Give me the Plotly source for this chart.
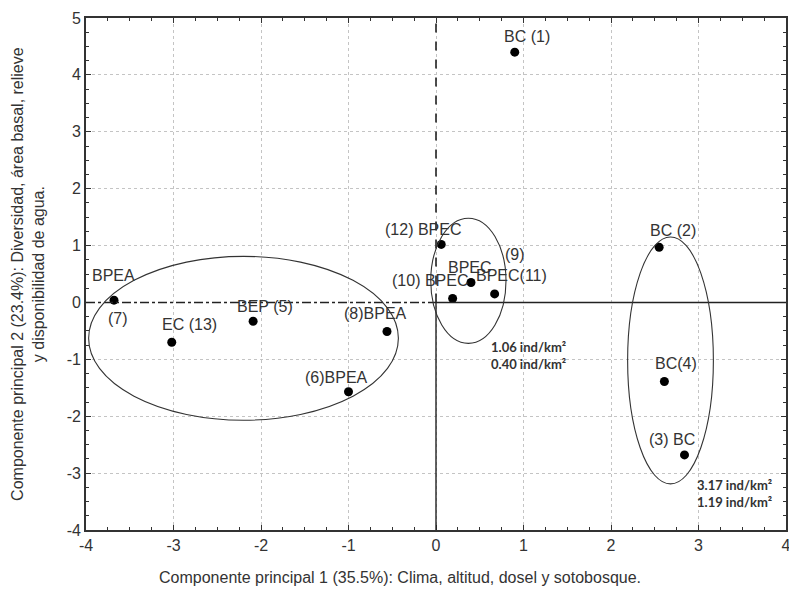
import plotly.graph_objects as go

# ---- data ----
pc1 = [0.90, 2.55, 2.84, 2.61, -2.09, -1.00, -3.68, -0.56, 0.40, 0.19, 0.67, 0.06, -3.02]
pc2 = [4.40, 0.97, -2.68, -1.39, -0.33, -1.57, 0.04, -0.51, 0.35, 0.07, 0.15, 1.02, -0.70]
labels = ["BC (1)", "BC (2)", "(3) BC", "BC(4)", "BEP (5)", "(6)BPEA", "BPEA",
          "(8)BPEA", "BPEC", "(10) BPEC", "BPEC(11)", "(12) BPEC", "EC (13)"]
# label offsets in pixels (styling)
lab_dx = [12, 14, -13, 12, 12, -12, -1, -12, -1, -23, 17, -18, 18]
lab_dy = [16, 17, 15, 18, 15, 14, 25, 18, 15, 18, 18, 15, 18]
# extra labels (point index, text, dx, dy)
extra_labels = [(8, "(9)", 44, 28), (6, "(7)", 4, -18)]

ellipse_cx = [-2.20, 0.37, 2.68]
ellipse_cy = [-0.63, 0.38, -1.02]
ellipse_rx = [1.77, 0.43, 0.49]
ellipse_ry = [1.44, 1.10, 2.17]

density_notes = [("1.06 ind/km²<br>0.40 ind/km²", 0.60, -0.94),
                 ("3.17 ind/km²<br>1.19 ind/km²", 2.96, -3.36)]

x_range = [-4, 4]
y_range = [-4, 5]
x_ticks = [-4, -3, -2, -1, 0, 1, 2, 3, 4]
x_ticktext = ["-4", "-3", "-2", "-1", "0", "1", "2", "3", "4"]
y_ticks = [-4, -3, -2, -1, 0, 1, 2, 3, 4, 5]
y_ticktext = ["-4", "-3", "-2", "-1", "0", "1", "2", "3", "4", "5"]
x_title = "Componente principal 1 (35.5%): Clima, altitud, dosel y sotobosque."
y_title = "Componente principal 2 (23.4%): Diversidad, área basal, relieve<br>y disponibilidad de agua."

FONT = "Liberation Sans, Arial, sans-serif"
TXT = "#333333"
FS = 16

fig = go.Figure()

shapes = []
# reference lines through origin
shapes.append(dict(type="line", xref="x", yref="y", x0=0, x1=0, y0=0, y1=y_range[1],
                   line=dict(color="#222", width=1.6, dash="dash")))
shapes.append(dict(type="line", xref="x", yref="y", x0=0, x1=0, y0=y_range[0], y1=0,
                   line=dict(color="#222", width=1.4)))
shapes.append(dict(type="line", xref="x", yref="y", x0=x_range[0], x1=0, y0=0, y1=0,
                   line=dict(color="#222", width=1.6, dash="dashdot")))
shapes.append(dict(type="line", xref="x", yref="y", x0=0, x1=x_range[1], y0=0, y1=0,
                   line=dict(color="#222", width=1.4)))
for cx, cy, rx, ry in zip(ellipse_cx, ellipse_cy, ellipse_rx, ellipse_ry):
    shapes.append(dict(type="circle", xref="x", yref="y",
                       x0=cx - rx, x1=cx + rx, y0=cy - ry, y1=cy + ry,
                       line=dict(color="#333", width=1.1)))

fig.add_trace(go.Scatter(x=pc1, y=pc2, mode="markers",
                         marker=dict(color="black", size=9), hoverinfo="skip",
                         showlegend=False))

annotations = []
for x, y, t, dx, dy in zip(pc1, pc2, labels, lab_dx, lab_dy):
    annotations.append(dict(x=x, y=y, xref="x", yref="y", text=t, showarrow=False,
                            xshift=dx, yshift=dy,
                            font=dict(family=FONT, size=FS, color=TXT)))
for i, t, dx, dy in extra_labels:
    annotations.append(dict(x=pc1[i], y=pc2[i], xref="x", yref="y", text=t, showarrow=False,
                            xshift=dx, yshift=dy,
                            font=dict(family=FONT, size=FS, color=TXT)))
for t, x, y in density_notes:
    annotations.append(dict(x=x, y=y, xref="x", yref="y", text=t, showarrow=False,
                            xanchor="left", align="left",
                            font=dict(family="Lato, Open Sans, sans-serif", size=13,
                                      color="#333", weight="bold")))
# axis titles
annotations.append(dict(x=-0.083, y=0.5, xref="paper", yref="paper", text=y_title,
                        showarrow=False, textangle=-90, xanchor="center", yanchor="middle",
                        font=dict(family=FONT, size=FS, color=TXT)))
annotations.append(dict(x=0.449, y=-0.092, xref="paper", yref="paper", text=x_title,
                        showarrow=False, xanchor="center", yanchor="middle",
                        font=dict(family=FONT, size=FS, color=TXT)))

axis_common = dict(showline=True, linecolor="#333", linewidth=1.6, mirror="allticks",
                   ticks="inside", ticklen=5, tickcolor="#333", tickwidth=1.2,
                   showgrid=True, gridcolor="#c4c4c4", griddash="dot", gridwidth=1,
                   zeroline=False, automargin=False, ticklabeloverflow="allow",
                   tickfont=dict(family=FONT, size=FS, color=TXT),
                   minor=dict(ticks="inside", ticklen=3, tickcolor="#333", dtick=0.25,
                              showgrid=False))

fig.update_layout(
    width=789, height=593,
    margin=dict(l=86, r=3, t=18, b=63),
    plot_bgcolor="white", paper_bgcolor="white",
    shapes=shapes, annotations=annotations,
    xaxis=dict(range=x_range, tickvals=x_ticks, ticktext=x_ticktext, **axis_common),
    yaxis=dict(range=y_range, tickvals=y_ticks, ticktext=y_ticktext, **axis_common),
)

fig.write_html("out.html", config={"displayModeBar": False},
               post_script="document.body.style.margin='0';document.body.style.overflow='hidden';")
